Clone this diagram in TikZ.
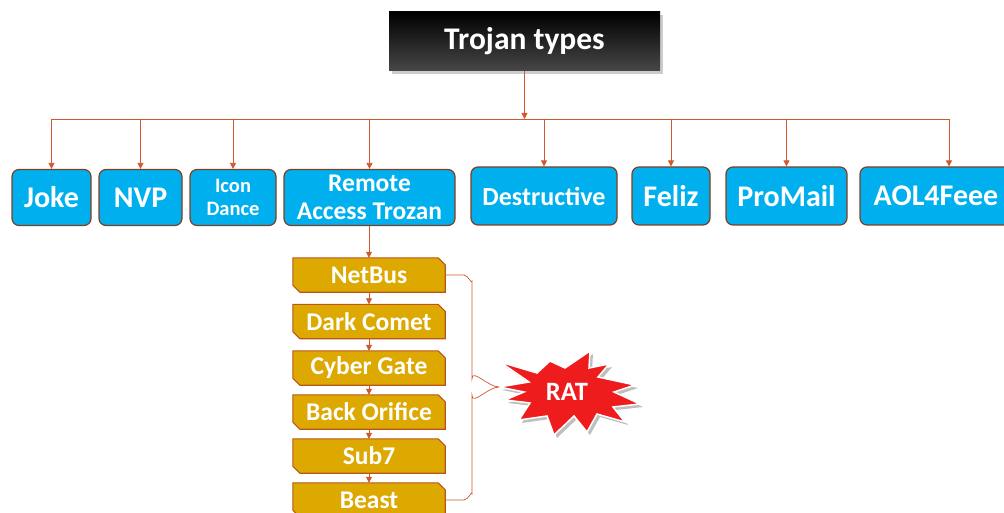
\documentclass[tikz,border=0pt]{standalone}
\usepackage{fontspec}
\setmainfont{Carlito}
\usetikzlibrary{arrows.meta,shadows,calc,backgrounds}
\definecolor{bluefill}{HTML}{00B0EE}
\definecolor{blueborder}{HTML}{7F3F22}
\definecolor{goldfill}{HTML}{DDA800}
\definecolor{goldborder}{HTML}{B8561A}
\definecolor{connc}{HTML}{D0582C}
\definecolor{ratred}{HTML}{EE1C1C}
\newcommand\ratstar{(-68,-5) -- (-38,-10) -- (-67,-30) -- (-30,-19) -- (-17,-31) -- (-2,-24) -- (23,-41) -- (22,-24)
    -- (42,-28) -- (31,-15) -- (68,-7) -- (47,0) -- (73,12) -- (46,15) -- (58,30) -- (30,22)
    -- (20,40) -- (7,24) -- (-13,43) -- (-20,24) -- (-48,28) -- (-37,11) -- (-62,8) -- (-43,0) -- cycle}
\begin{document}
\begin{tikzpicture}[x=1pt,y=-1pt,
  bluebox/.style={draw=blueborder, line width=1.2pt, fill=bluefill, rounded corners=7pt,
    text=white, font=\bfseries\fontsize{30}{32}\selectfont, align=center, inner sep=0pt,
    minimum height=56pt},
  goldbox/.style={rectangle, text=white,
    font=\bfseries\fontsize{25.5}{27}\selectfont, inner sep=0pt,
    minimum width=152pt, minimum height=34pt},
  goldshape/.style={draw=goldborder, line width=1.1pt, fill=goldfill, line join=miter},
  titlebox/.style={draw=none, top color=black, bottom color=black!72,
    text=white, font=\bfseries\fontsize{31.5}{33}\selectfont, inner sep=0pt,
    minimum width=271pt, minimum height=59pt,
    drop shadow={shadow xshift=3pt, shadow yshift=-3pt, fill=black!40}},
  conn/.style={draw=connc, line width=0.8pt},
  arr/.style={conn, -{Triangle[width=6pt,length=6pt]}},
  ]
\clip (0,0) rectangle (1004,513);

% title
\node[titlebox] (title) at (524.5,41.5) {Trojan types};

% category boxes
\node[bluebox, minimum width=79pt] (joke) at (51.5,197.5) {Joke};
\node[bluebox, minimum width=83pt] (nvp) at (140.5,197.5) {NVP};
\node[bluebox, minimum width=86pt, font=\bfseries\fontsize{20.5}{23}\selectfont] (icon) at (233,197.5) {Icon\\Dance};
\node[bluebox, minimum width=171pt, font=\bfseries\fontsize{25.5}{28}\selectfont] (rat0) at (369.5,197.5) {Remote\\Access Trozan};
\node[bluebox, minimum width=146pt, minimum height=58pt, font=\bfseries\fontsize{26}{28}\selectfont] (destr) at (544,196) {Destructive};
\node[bluebox, minimum width=78pt, minimum height=58pt] (feliz) at (671,196) {Feliz};
\node[bluebox, minimum width=121pt, minimum height=58pt] (promail) at (786.5,196) {ProMail};
\node[bluebox, minimum width=152pt, minimum height=58pt] (aol) at (936,196) {AOL4Feee};

% bus
\coordinate (bus) at (0,119);
\coordinate (aoldrop) at ($(aol.north)+(13,0)$);
\draw[arr] (title.south) -- (title.south |- bus);
\draw[conn] (joke.north |- bus) -- (aoldrop |- bus);
\foreach \n in {joke,nvp,icon,rat0,destr,feliz,promail}
  \draw[arr] (\n.north |- bus) -- (\n.north);
\draw[arr] (aoldrop |- bus) -- (aoldrop);

% RAT list
\node[goldbox] (netbus) at (369,275) {NetBus};
\node[goldbox] (dark) at (369,321.5) {Dark Comet};
\node[goldbox] (cyber) at (369,368) {Cyber Gate};
\node[goldbox] (back) at (369,412) {Back Orifice};
\node[goldbox] (sub) at (369,456) {Sub7};
\node[goldbox] (beast) at (369,500) {Beast};
\begin{scope}[on background layer]
  \foreach \n in {netbus,dark,cyber,back,sub,beast}
    \filldraw[goldshape] (\n.north west) -- ($(\n.north east)+(-7,0)$) -- ($(\n.north east)+(0,7)$)
      -- (\n.south east) -- ($(\n.south west)+(7,0)$) -- ($(\n.south west)+(0,-7)$) -- cycle;
\end{scope}

\draw[arr] (rat0.south -| netbus.north) -- (netbus.north);
\draw[arr] (netbus.south) -- (dark.north);
\draw[arr] (dark.south) -- (cyber.north);
\draw[arr] (cyber.south) -- (back.north);
\draw[arr] (back.south) -- (sub.north);
\draw[arr] (sub.south) -- (beast.north);

% RAT starburst
\coordinate (ratc) at (567,392);
\begin{scope}[shift={(ratc)}]
  \coordinate (rattip) at (-68,-5);
  \fill[black!25, shift={(3,3)}] \ratstar;
  \filldraw[fill=ratred, draw=white, line width=1.5pt, line join=miter] \ratstar;
\end{scope}
\node[text=white, font=\bfseries\fontsize{26.5}{28}\selectfont, inner sep=0pt] (rat) at (ratc) {RAT};

% brace
\coordinate (bx) at (472,0);
\draw[conn, line width=0.7pt] (netbus.east) -- ($(bx |- netbus.east)+(-8,0)$)
  to[out=0,in=-90] ($(bx |- netbus.east)+(0,6)$) -- ($(bx |- rattip)+(0,-8)$)
  to[out=90,in=180] (rattip);
\draw[conn, line width=0.7pt] (beast.east) -- ($(bx |- beast.east)+(-8,0)$)
  to[out=0,in=90] ($(bx |- beast.east)+(0,-6)$) -- ($(bx |- rattip)+(0,8)$)
  to[out=-90,in=180] (rattip);
\end{tikzpicture}
\end{document}
